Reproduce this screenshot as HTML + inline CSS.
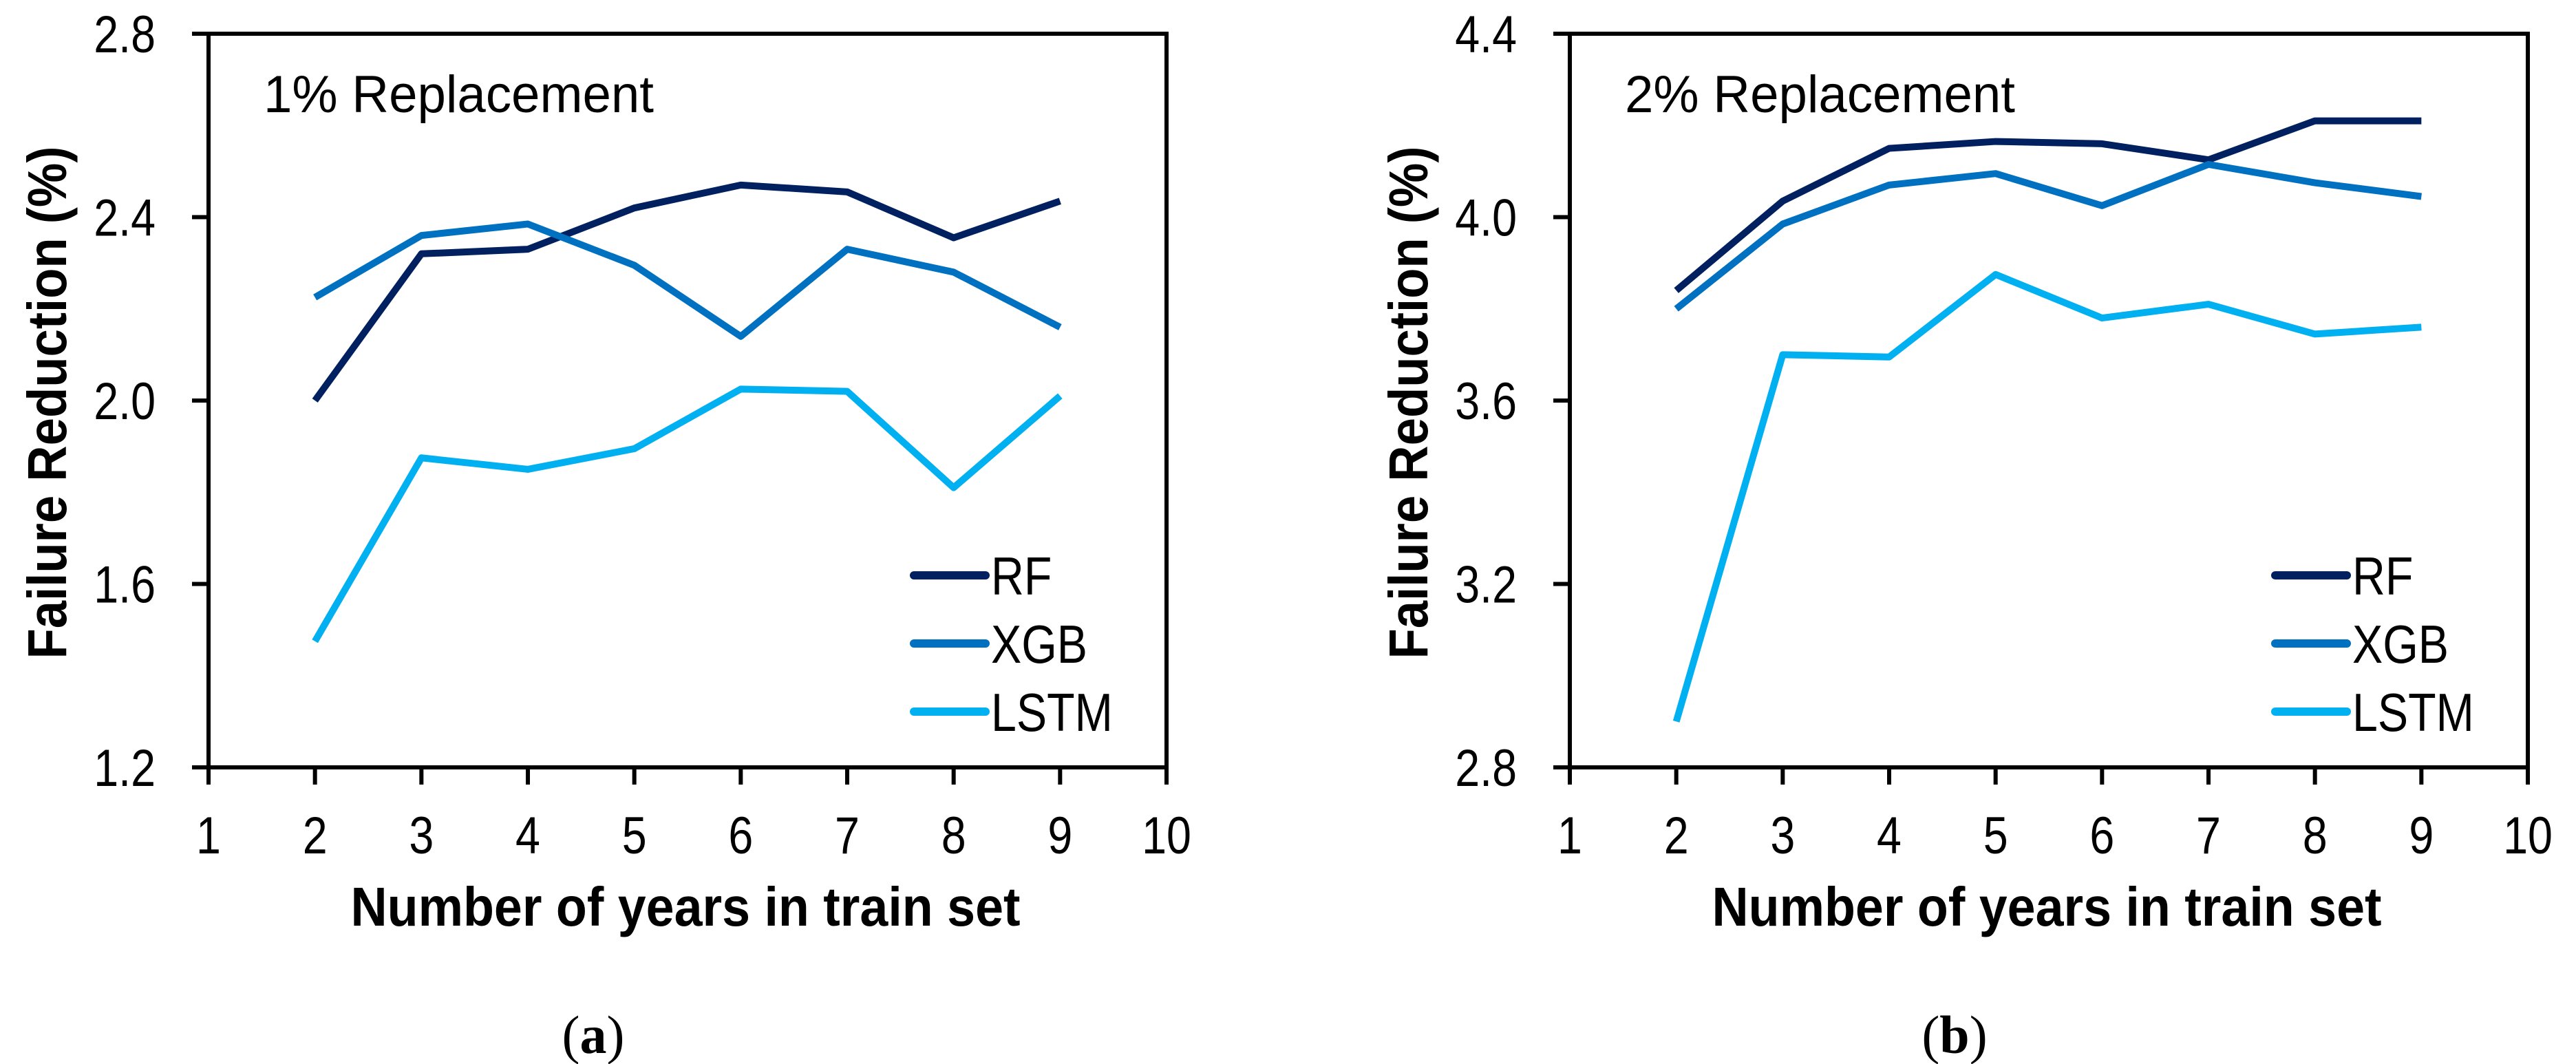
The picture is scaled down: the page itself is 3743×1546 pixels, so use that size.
<!DOCTYPE html>
<html><head><meta charset="utf-8"><style>
html,body{margin:0;padding:0;background:#fff}
svg{display:block}
text{font-family:"Liberation Sans",sans-serif;fill:#000}
</style></head><body>
<svg id="fig" width="3743" height="1546" viewBox="0 0 3743 1546" xmlns="http://www.w3.org/2000/svg"></svg>
<script>
const xTicks = [1,2,3,4,5,6,7,8,9,10];
const years = [2,3,4,5,6,7,8,9];
const seriesNames = ["RF","XGB","LSTM"];
const aRF   = [2.00,2.32,2.33,2.42,2.47,2.455,2.355,2.435];
const aXGB  = [2.225,2.36,2.385,2.295,2.14,2.33,2.28,2.16];
const aLSTM = [1.475,1.875,1.85,1.895,2.025,2.02,1.81,2.01];
const bRF   = [3.84,4.035,4.15,4.165,4.16,4.125,4.21,4.21];
const bXGB  = [3.80,3.985,4.07,4.095,4.025,4.115,4.075,4.045];
const bLSTM = [2.90,3.70,3.695,3.875,3.78,3.81,3.745,3.76];
const aYTicks = [1.2,1.6,2.0,2.4,2.8];
const bYTicks = [2.8,3.2,3.6,4.0,4.4];
const colors = ["#002060","#0070C0","#00B0F0"];
const NS="http://www.w3.org/2000/svg";
const svg=document.getElementById('fig');
function mk(tag,attrs,parent){const e=document.createElementNS(NS,tag);for(const k in attrs)e.setAttribute(k,attrs[k]);(parent||svg).appendChild(e);return e;}
function squeeze(t,f){const w=t.getComputedTextLength();t.setAttribute('textLength',w*f);t.setAttribute('lengthAdjust','spacingAndGlyphs');}

function panel(off,yTicks,series,title,tag,pname){
  const g=mk('g',{});
  
  
  const L=303+off,R=1695+off,T=49,B=1115;
  const ymin=yTicks[0],ymax=yTicks[yTicks.length-1];
  const sx=v=>L+(v-1)/9*(R-L);
  const sy=v=>B-(v-ymin)/(ymax-ymin)*(B-T);
  const frame=mk('rect',{x:L,y:T,width:R-L,height:B-T,fill:'none',stroke:'#000','stroke-width':6},g);
  
  
  yTicks.forEach(v=>{
    const y=sy(v);
    const tl=mk('line',{x1:L-24,x2:L,y1:y,y2:y,stroke:'#000','stroke-width':6},g);
    
    
    const t=mk('text',{x:L-77,y:y+27,'text-anchor':'end','font-size':76},g);
    t.textContent=v.toFixed(1);
    
    
    squeeze(t,0.85);
  });
  xTicks.forEach(v=>{
    const x=sx(v);
    const tl=mk('line',{x1:x,x2:x,y1:B,y2:B+25,stroke:'#000','stroke-width':6},g);
    
    
    const t=mk('text',{x:x,y:1240,'text-anchor':'middle','font-size':76},g);
    t.textContent=v;
    
    
    squeeze(t,0.85);
  });
  series.forEach((s,i)=>{
    const p=mk('polyline',{points:s.map((v,j)=>sx(years[j])+','+sy(v)).join(' '),fill:'none',stroke:colors[i],'stroke-width':10,'stroke-linejoin':'round'},g);
    
    
    const ly=836+i*99;
    const ll=mk('line',{x1:1328+off,x2:1432+off,y1:ly,y2:ly,stroke:colors[i],'stroke-width':12,'stroke-linecap':'round'},g);
    
    
    const lt=mk('text',{x:1440+off,y:ly+28,'font-size':78},g);
    lt.textContent=seriesNames[i];
    
    
    squeeze(lt,0.85);
  });
  const ti=mk('text',{x:383+off,y:163,'font-size':76,textLength:567,lengthAdjust:'spacingAndGlyphs'},g);
  ti.textContent=title;
  
  
  const xt=mk('text',{x:996+off,y:1345,'text-anchor':'middle','font-size':80,'font-weight':'bold',textLength:973,lengthAdjust:'spacingAndGlyphs'},g);
  xt.textContent='Number of years in train set';
  
  
  const yt=mk('text',{x:0,y:0,'text-anchor':'middle','font-size':80,'font-weight':'bold',textLength:745,lengthAdjust:'spacingAndGlyphs',transform:`translate(${96+off},585) rotate(-90)`},g);
  yt.textContent='Failure Reduction (%)';
  
  
  const cap=mk('text',{x:862+off,y:1530,'text-anchor':'middle','font-size':78,style:'font-family:"Liberation Serif",serif'},g);
  cap.innerHTML='(<tspan font-weight="bold">'+tag+'</tspan>)';
  
  
}
panel(0,aYTicks,[aRF,aXGB,aLSTM],'1% Replacement','a','panel-a');
panel(1978,bYTicks,[bRF,bXGB,bLSTM],'2% Replacement','b','panel-b');
</script>
</body></html>
